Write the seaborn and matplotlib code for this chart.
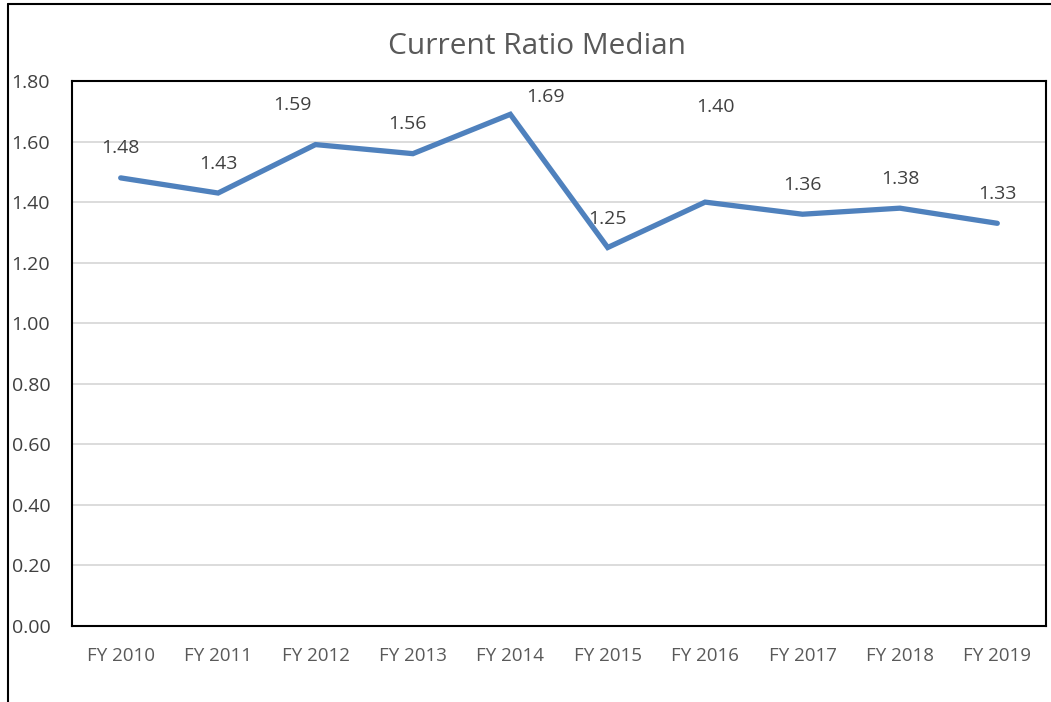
import matplotlib
matplotlib.use("Agg")
import matplotlib.pyplot as plt
import seaborn as sns
import pandas as pd
from matplotlib.lines import Line2D

years = ["FY 2010", "FY 2011", "FY 2012", "FY 2013", "FY 2014",
         "FY 2015", "FY 2016", "FY 2017", "FY 2018", "FY 2019"]
ratio = [1.48, 1.43, 1.59, 1.56, 1.69, 1.25, 1.40, 1.36, 1.38, 1.33]
yticks = [0.0, 0.2, 0.4, 0.6, 0.8, 1.0, 1.2, 1.4, 1.6, 1.8]

# label offsets in pixels (dx, dy) as in the reference
offsets = [(0, 30), (0, 29), (-23, 40), (-5, 30), (35, 17),
           (0, 29), (10, 95), (0, 29), (0, 29), (0, 29)]

df = pd.DataFrame({"year": years, "ratio": ratio, "x": range(len(years))})

sns.set_theme(style="white")
plt.rcParams["font.family"] = ["Open Sans", "DejaVu Sans"]

W, H = 1051, 702
fig = plt.figure(figsize=(W / 100, H / 100), dpi=100)
L, R, T, B = 72, 1046, 81, 626
ax = fig.add_axes([L / W, 1 - B / H, (R - L) / W, (B - T) / H])

sns.lineplot(data=df, x="x", y="ratio", ax=ax, color="#4F81BD",
             linewidth=3.8, solid_joinstyle="miter")

ax.set_xlim(-0.5, len(years) - 0.5)
ax.set_ylim(0, 1.8)
ax.set_xticks(range(len(years)))
ax.set_xticklabels(years)
ax.set_yticks(yticks)
ax.set_yticklabels([f"{v:.2f}" for v in yticks], ha="left")
ax.tick_params(axis="y", length=0, pad=43.5, labelsize=14, labelcolor="#404040")
ax.tick_params(axis="x", length=0, pad=15, labelsize=13.5, labelcolor="#595959")
ax.set_xlabel("")
ax.set_ylabel("")
ax.grid(axis="y", color="#D9D9D9", linewidth=1.3)
ax.set_axisbelow(True)
for s in ax.spines.values():
    s.set_color("black")
    s.set_linewidth(1.5)

for i, (v, (dx, dy)) in enumerate(zip(ratio, offsets)):
    ax.annotate(f"{v:.2f}", xy=(i, v), xytext=(dx * 0.72, dy * 0.72),
                textcoords="offset points", ha="center", va="center",
                fontsize=14, color="#404040")

fig.text(537 / W, 1 - 47 / H, "Current Ratio Median", ha="center", va="center",
         fontsize=21.5, color="#595959")

# outer chart border
fig.add_artist(Line2D([8 / W, 1.0], [1 - 4 / H, 1 - 4 / H], color="black",
                      linewidth=1.5, transform=fig.transFigure))
fig.add_artist(Line2D([8 / W, 8 / W], [1 - 4 / H, 0], color="black",
                      linewidth=1.5, transform=fig.transFigure))

fig.savefig("out.png", dpi=100, facecolor="white")
